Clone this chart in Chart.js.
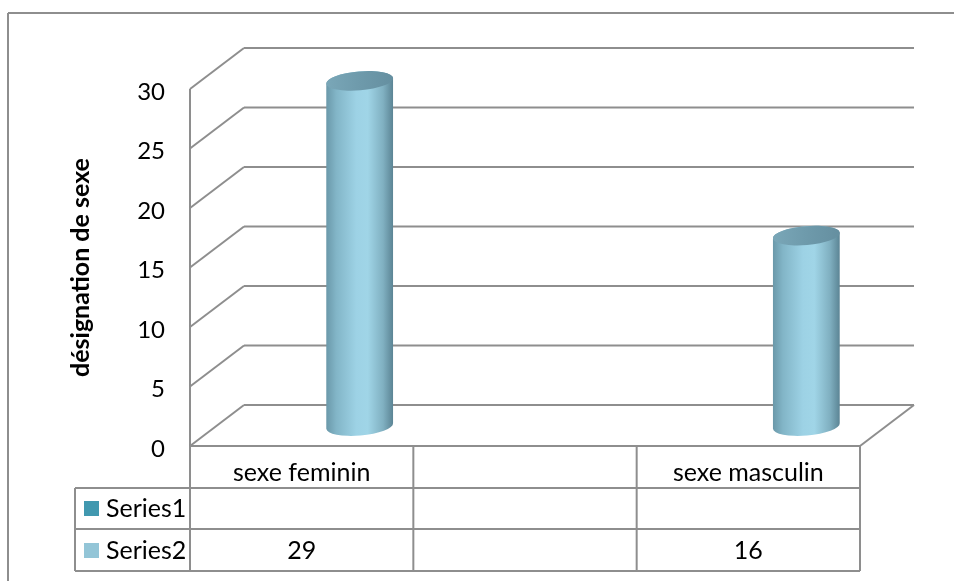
<!DOCTYPE html>
<html>
<head>
<meta charset="utf-8">
<title>désignation de sexe</title>
<script src="https://cdn.jsdelivr.net/npm/chart.js@4.4.1/dist/chart.umd.min.js"></script>
<style>
  html, body { margin: 0; padding: 0; background: #ffffff; }
  #wrap { width: 954px; height: 581px; position: relative; }
</style>
</head>
<body>
<div id="wrap"><canvas id="chart" width="954" height="581"></canvas></div>
<script>
// Chart data
const categories = ['sexe feminin', '', 'sexe masculin'];
const seriesNames = ['Series1', 'Series2'];
const series1 = [null, null, null];
const series2 = [29, null, 16];
const yTickStep = 5;
const yMax = 30;
const axisTitle = 'désignation de sexe';

// Styling
const FONT = 'Lato, "Open Sans", "DejaVu Sans", sans-serif';
const LINE = '#8e8e8e';
const KEY_COLORS = ['#4198af', '#93c5d7'];
const DEPTH = { dx: 54, dy: -41 };      // back wall offset of the 3D box
const BAR_SHIFT = { dx: 58, dy: -20 };  // cylinders sit mid-depth
const TABLE = { left: 75, rowH: [42, 41, 42] };

function line(ctx, x1, y1, x2, y2) {
  ctx.beginPath();
  ctx.moveTo(x1, y1);
  ctx.lineTo(x2, y2);
  ctx.stroke();
}

// Walls, floor, frame and data table
const boxPlugin = {
  id: 'box3d',
  beforeDatasetsDraw(chart) {
    const { ctx, chartArea, scales } = chart;
    const y = scales.y, x = scales.x;
    const L = chartArea.left, R = chartArea.right;
    ctx.save();
    ctx.strokeStyle = LINE;
    ctx.lineWidth = 2;
    ctx.lineCap = 'butt';

    // outer chart frame
    line(ctx, 8, 13, 954, 13);
    line(ctx, 8, 13, 8, 581);

    // front vertical edge of the side wall
    const y0 = y.getPixelForValue(0);
    const yTop = y.getPixelForValue(yMax);
    line(ctx, L, yTop, L, y0);

    // side-wall diagonals and back-wall grid lines
    y.ticks.forEach(t => {
      const py = y.getPixelForValue(t.value);
      line(ctx, L, py, L + DEPTH.dx, py + DEPTH.dy);
      line(ctx, L + DEPTH.dx, py + DEPTH.dy, R + DEPTH.dx, py + DEPTH.dy);
    });

    // floor front edge and right edge
    line(ctx, L, y0, R, y0);
    line(ctx, R, y0, R + DEPTH.dx, y0 + DEPTH.dy);

    // data table
    const n = categories.length;
    const half = (x.getPixelForValue(1) - x.getPixelForValue(0)) / 2;
    const rows = [y0];
    TABLE.rowH.forEach(h => rows.push(rows[rows.length - 1] + h));
    const colEdges = [];
    for (let i = 0; i < n; i++) colEdges.push(x.getPixelForValue(i) - half);
    colEdges.push(x.getPixelForValue(n - 1) + half);

    colEdges.forEach(cx => line(ctx, cx, rows[0], cx, rows[3]));
    line(ctx, TABLE.left, rows[1], R, rows[1]);
    line(ctx, TABLE.left, rows[2], R, rows[2]);
    line(ctx, TABLE.left, rows[3], R, rows[3]);
    line(ctx, TABLE.left, rows[1], TABLE.left, rows[3]);

    ctx.fillStyle = '#000';
    ctx.font = '25px ' + FONT;
    ctx.textAlign = 'center';
    ctx.textBaseline = 'alphabetic';
    const baselines = [rows[0] + 35, rows[1] + 29, rows[2] + 30];
    categories.forEach((c, i) => ctx.fillText(c, x.getPixelForValue(i), baselines[0]));
    [series1, series2].forEach((vals, r) => {
      vals.forEach((v, i) => {
        if (v !== null && v !== undefined) ctx.fillText(String(v), x.getPixelForValue(i), baselines[r + 1]);
      });
      // legend key and series name
      ctx.fillStyle = KEY_COLORS[r];
      ctx.fillRect(TABLE.left + 9, baselines[r + 1] - 16, 15, 15);
      ctx.fillStyle = '#000';
      ctx.textAlign = 'left';
      ctx.fillText(seriesNames[r], TABLE.left + 31, baselines[r + 1]);
      ctx.textAlign = 'center';
    });
    ctx.restore();
  },
  afterDatasetsDraw(chart) {
    const { ctx } = chart;
    chart.data.datasets.forEach((ds, di) => {
      const meta = chart.getDatasetMeta(di);
      meta.data.forEach((el, i) => {
        const v = ds.data[i];
        if (v === null || v === undefined) return;
        drawCylinder(ctx, el.x + BAR_SHIFT.dx, el.y + BAR_SHIFT.dy, el.base + BAR_SHIFT.dy, el.width);
      });
    });
  }
};

function drawCylinder(ctx, cx, yTop, yBot, w) {
  const rx = w / 2, ry = 9.5, rot = -0.085;
  ctx.save();
  const g = ctx.createLinearGradient(cx - rx, 0, cx + rx, 0);
  g.addColorStop(0, '#6a98a9');
  g.addColorStop(0.15, '#82b5c7');
  g.addColorStop(0.45, '#9dd2e5');
  g.addColorStop(0.62, '#a0d5e7');
  g.addColorStop(0.85, '#80b0c1');
  g.addColorStop(1, '#5b8494');
  ctx.beginPath();
  ctx.ellipse(cx, yTop, rx, ry, rot, Math.PI, 2 * Math.PI, false);
  ctx.ellipse(cx, yBot, rx, ry, rot, 0, Math.PI, false);
  ctx.closePath();
  ctx.fillStyle = g;
  ctx.fill();

  const t = ctx.createLinearGradient(cx - rx, yTop, cx + rx, yTop);
  t.addColorStop(0, '#7aa7b8');
  t.addColorStop(0.5, '#6e9aab');
  t.addColorStop(1, '#658fa0');
  ctx.beginPath();
  ctx.ellipse(cx, yTop, rx, ry, rot, 0, 2 * Math.PI);
  ctx.fillStyle = t;
  ctx.fill();
  ctx.restore();
}

new Chart(document.getElementById('chart'), {
  type: 'bar',
  data: {
    labels: categories,
    datasets: [
      { label: seriesNames[0], data: series1, backgroundColor: 'rgba(0,0,0,0)' },
      { label: seriesNames[1], data: series2, backgroundColor: 'rgba(0,0,0,0)' }
    ]
  },
  options: {
    responsive: false,
    animation: false,
    devicePixelRatio: 1,
    layout: { padding: { top: 89, bottom: 135, right: 94, left: 0 } },
    datasets: { bar: { grouped: false, barPercentage: 0.3, categoryPercentage: 1.0 } },
    plugins: { legend: { display: false }, tooltip: { enabled: false }, title: { display: false } },
    scales: {
      x: { type: 'category', display: false },
      y: {
        min: 0,
        max: yMax,
        grid: { display: false, drawTicks: false },
        border: { display: false },
        ticks: {
          stepSize: yTickStep,
          padding: 25,
          labelOffset: 3,
          color: '#000',
          font: { family: FONT, size: 24 }
        },
        title: {
          display: true,
          text: axisTitle,
          color: '#000',
          font: { family: FONT, size: 25, weight: 'bold' },
          padding: { top: 66, bottom: 0 }
        },
        afterFit(scale) { scale.width = 190; }
      }
    }
  },
  plugins: [boxPlugin]
});
</script>
</body>
</html>
